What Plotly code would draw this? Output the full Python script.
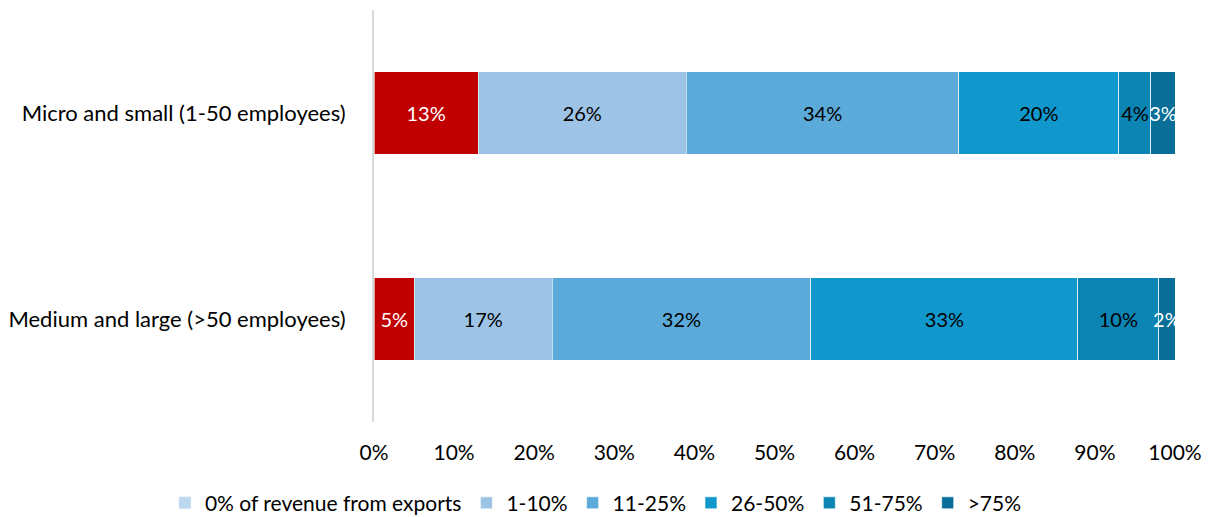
import plotly.graph_objects as go

# Share of firms by export revenue band, per company size
categories = ["Micro and small (1-50 employees)", "Medium and large (>50 employees)"]
bands = ["0% of revenue from exports", "1-10%", "11-25%", "26-50%", "51-75%", ">75%"]
micro_small = [13, 26, 34, 20, 4, 3]
medium_large = [5, 17, 32, 33, 10, 2]
tick_vals = [0, 10, 20, 30, 40, 50, 60, 70, 80, 90, 100]
tick_text = ["0%", "10%", "20%", "30%", "40%", "50%", "60%", "70%", "80%", "90%", "100%"]

# Bar fill per band (the no-export band is highlighted in red on the bars)
bar_colors = ["#C00000", "#9DC3E6", "#5BAAD9", "#1097CB", "#0C84B4", "#0A6F98"]
legend_colors = ["#BDD7EE", "#9DC3E6", "#5BAAD9", "#1097CB", "#0C84B4", "#0A6F98"]
text_colors = [["white", "white"], ["black", "black"], ["black", "black"],
               ["black", "black"], ["black", "black"], ["white", "white"]]

FONT = "Lato, 'Open Sans', sans-serif"

fig = go.Figure()
for i, band in enumerate(bands):
    vals = [micro_small[i], medium_large[i]]
    first = i == 0
    fig.add_trace(go.Bar(
        y=categories,
        x=vals,
        name=band,
        orientation="h",
        marker=dict(color=bar_colors[i], line=dict(color="rgba(255,255,255,0.6)", width=1)),
        text=[f"{v}%" for v in vals],
        textposition="inside",
        insidetextanchor="middle",
        textangle=0,
        constraintext="none",
        textfont=dict(color=text_colors[i], size=20, family=FONT),
        showlegend=not first,
        legendrank=i + 1,
        hoverinfo="skip",
    ))

# Legend swatch for the no-export band uses its series colour
fig.add_trace(go.Bar(
    y=[None], x=[None], orientation="h",
    name=bands[0],
    marker=dict(color=legend_colors[0]),
    showlegend=True,
    legendrank=1,
    hoverinfo="skip",
))

fig.update_layout(
    width=1210,
    height=517,
    barmode="stack",
    barnorm="percent",
    bargap=0.6,
    plot_bgcolor="white",
    paper_bgcolor="white",
    font=dict(family=FONT, size=21, color="black"),
    margin=dict(l=374, r=35, t=10, b=95, autoexpand=False),
    uniformtext=dict(minsize=20, mode="show"),
    legend=dict(
        orientation="h",
        x=-0.261, xanchor="left",
        y=-0.197, yanchor="middle",
        traceorder="normal",
        font=dict(size=21, family=FONT),
        itemwidth=30,
        tracegroupgap=0,
    ),
    xaxis=dict(
        range=[0, 100],
        tickvals=tick_vals,
        ticktext=tick_text,
        showgrid=False,
        zeroline=False,
        showline=False,
        ticks="",
        ticklabelstandoff=16,
        tickfont=dict(size=21, family=FONT),
    ),
    yaxis=dict(
        autorange="reversed",
        showgrid=False,
        zeroline=False,
        showline=True,
        linecolor="#D9D9D9",
        linewidth=2,
        ticks="",
        ticklabelstandoff=22,
        tickfont=dict(size=22, family=FONT),
    ),
)

fig.write_html("out.html")
